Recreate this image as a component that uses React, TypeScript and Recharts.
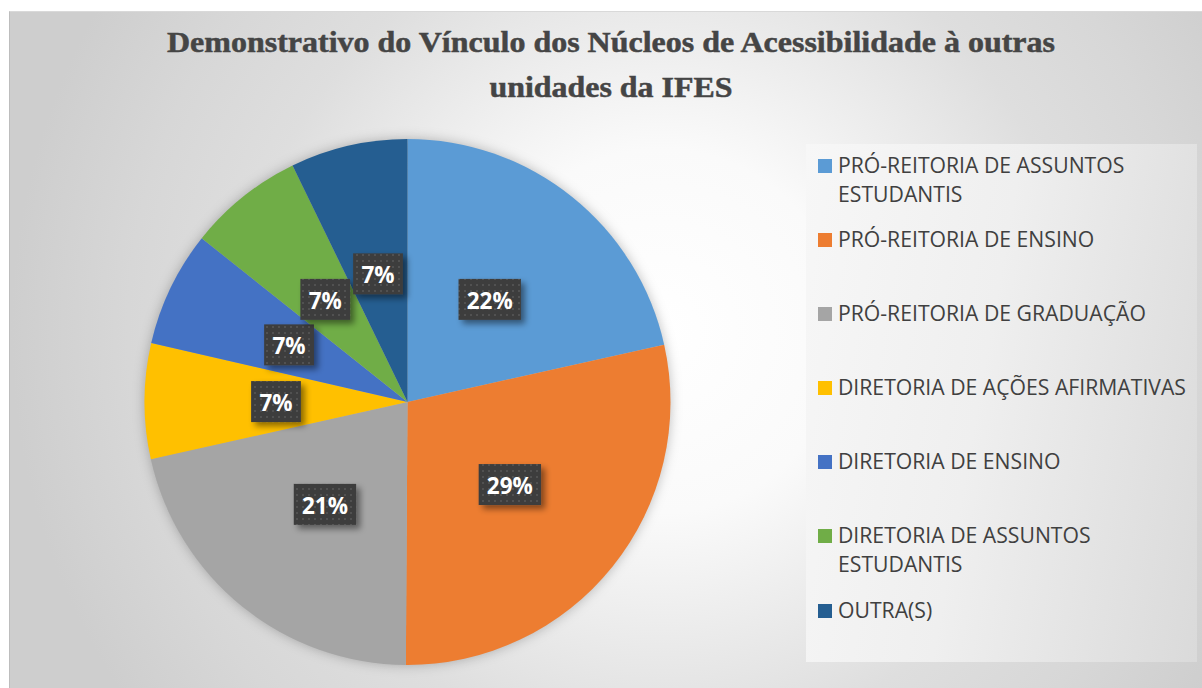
import { PieChart, Pie, Cell, Legend } from 'recharts';

const categories = [
  'PRÓ-REITORIA DE ASSUNTOS ESTUDANTIS',
  'PRÓ-REITORIA DE ENSINO',
  'PRÓ-REITORIA DE GRADUAÇÃO',
  'DIRETORIA DE AÇÕES AFIRMATIVAS',
  'DIRETORIA DE ENSINO',
  'DIRETORIA DE ASSUNTOS ESTUDANTIS',
  'OUTRA(S)',
];

// percentages
const shares = [21.5, 28.6, 21.4, 7.1, 7.1, 7.1, 7.2];

const colors = ['#5B9BD5', '#ED7D31', '#A5A5A5', '#FFC000', '#4472C4', '#70AD47', '#255E91'];

const titleLines = [
  'Demonstrativo do Vínculo dos Núcleos de Acessibilidade à outras',
  'unidades da IFES',
];

const data = categories.map((name, i) => ({ name, value: shares[i] }));

const RAD = Math.PI / 180;

const renderLabel = (props: any) => {
  const { cx, cy, midAngle, outerRadius, value } = props;
  const r = outerRadius * 0.5;
  const x = cx + r * Math.cos(-midAngle * RAD);
  const y = cy + r * Math.sin(-midAngle * RAD);
  const text = `${Math.round(value)}%`;
  const w = 18 + (text.length - 1) * 12.6 + 19.2;
  const h = 41;
  return (
    <g>
      <rect
        x={x - w / 2}
        y={y - h / 2}
        width={w}
        height={h}
        fill="url(#labelDots)"
        filter="url(#labelShadow)"
      />
      <text
        x={x}
        y={y + 1}
        fill="#ffffff"
        textAnchor="middle"
        dominantBaseline="central"
        fontFamily='"Open Sans", sans-serif'
        fontWeight={700}
        fontSize={22.5}
      >
        {text}
      </text>
    </g>
  );
};

const renderLegend = () => (
  <div
    style={{
      paddingTop: 6,
      fontFamily: '"Open Sans", sans-serif',
      fontSize: 21.2,
      color: '#404040',
      lineHeight: '29px',
    }}
  >
    {categories.map((name, i) => (
      <div key={name} style={{ position: 'relative', height: 74.1, paddingLeft: 32, paddingRight: 2 }}>
        <span
          style={{
            position: 'absolute',
            left: 12,
            top: 9,
            width: 14,
            height: 14,
            background: colors[i],
          }}
        />
        <div>{name}</div>
      </div>
    ))}
  </div>
);

export default function App() {
  return (
    <div style={{ position: 'absolute', left: 0, top: 0, width: 1202, height: 688, background: '#fff', overflow: 'hidden' }}>
      <style>{`.recharts-pie { filter: drop-shadow(0 0 6px rgba(0,0,0,0.25)); }`}</style>
      <div
        style={{
          position: 'absolute',
          left: 9,
          top: 11,
          width: 1193,
          height: 677,
          borderLeft: '1px solid #bdbdbd',
          borderTop: '1px solid #d9d9d9',
          background:
            'radial-gradient(circle 650px at 651px 319px, #ffffff 0%, #fafafa 28%, #efefef 42%, #dedede 64%, #d7d7d7 82%, #cecece 100%)',
        }}
      />
      <svg width={1202} height={110} style={{ position: 'absolute', left: 0, top: 0 }}>
        {titleLines.map((line, i) => (
          <text
            key={line}
            x={611}
            y={52 + i * 45}
            textAnchor="middle"
            fill="#454545"
            stroke="#454545"
            strokeWidth={0.5}
            fontFamily='"Liberation Serif", serif'
            fontWeight={700}
            fontSize={30}
            textLength={i === 0 ? 888 : 243}
            lengthAdjust="spacingAndGlyphs"
          >
            {line}
          </text>
        ))}
      </svg>
      <div style={{ position: 'absolute', left: 0, top: 0 }}>
        <PieChart width={1202} height={688} margin={{ top: 0, right: 0, bottom: 0, left: 0 }}>
          <defs>
            <pattern id="labelDots" width="6" height="6" patternUnits="userSpaceOnUse">
              <rect width="6" height="6" fill="#3d3d3d" />
              <circle cx="3" cy="3" r="1" fill="#575757" />
            </pattern>
            <filter id="labelShadow" x="-30%" y="-30%" width="170%" height="180%">
              <feDropShadow dx="4" dy="4" stdDeviation="3" floodColor="#000" floodOpacity="0.45" />
            </filter>
          </defs>
          <Pie
            data={data}
            dataKey="value"
            nameKey="name"
            cx={407.5}
            cy={402}
            outerRadius={263}
            startAngle={90}
            endAngle={-270}
            stroke="none"
            labelLine={false}
            label={renderLabel}
            isAnimationActive={false}
          >
            {data.map((d, i) => (
              <Cell key={d.name} fill={colors[i]} />
            ))}
          </Pie>
          <Legend
            layout="vertical"
            align="right"
            verticalAlign="top"
            content={renderLegend}
            wrapperStyle={{
              left: 806,
              top: 144,
              width: 391,
              height: 518,
              background: 'linear-gradient(100deg, #f7f7f7 0%, #efefef 45%, #dadada 100%)',
            }}
          />
        </PieChart>
      </div>
    </div>
  );
}
